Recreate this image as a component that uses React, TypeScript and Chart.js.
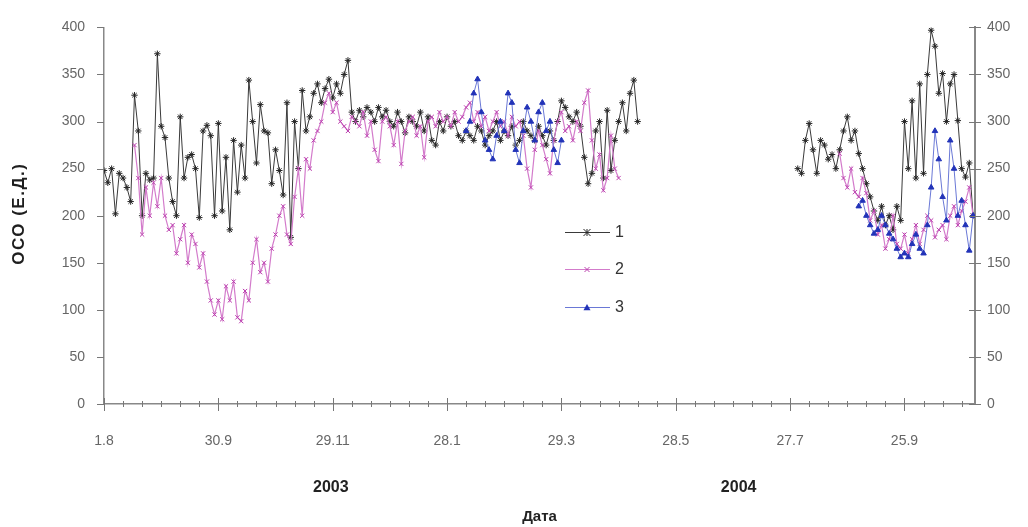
import React, { useEffect, useRef } from 'react';
import { Chart, registerables } from 'chart.js';

Chart.register(...registerables);

// ---- data (x = days since 1.8.2003, sampled every 2 days) ----
const xTickLabels = ['1.8', '30.9', '29.11', '28.1', '29.3', '28.5', '27.7', '25.9'];
const yearLabels = ['2003', '2004'];
const seriesNames = ['1', '2', '3'];
const STEP = 2;

const s1aStart = 0;
const s1a = [
  248, 235, 250, 202, 245, 240, 230, 215, 328, 290, 200, 245, 238, 240, 372, 295, 283, 240, 215, 200,
  305, 240, 262, 265, 250, 198, 290, 296, 285, 200, 298, 205, 262, 185, 280, 225, 275, 240, 344, 300,
  256, 318, 290, 288, 234, 270, 248, 222, 320, 177, 300, 250, 333, 290, 305, 330, 340, 320, 335, 345,
  325, 340, 330, 350, 365, 310, 300, 312, 305, 315, 310, 300, 315, 305, 312, 300, 295, 310, 300, 288,
  305, 300, 295, 310, 290, 305, 280, 275, 300, 290, 305, 295, 300, 285, 280, 290, 285, 280, 295, 290,
  275, 285, 290, 300, 280, 290, 285, 295, 275, 280, 300, 290, 285, 280, 295, 285, 275, 290, 280, 300,
  322, 315, 305, 300, 310, 295, 262, 234, 245, 290, 300, 240, 312, 248, 280, 300, 320, 290, 330, 344,
  300,
];
const s1bStart = 364;
const s1b = [
  250, 245, 280, 298, 270, 245, 280, 275, 260, 265, 250, 270, 290, 305, 280, 290, 266, 250, 234, 220,
  205, 195, 210, 190, 200, 185, 210, 195, 300, 250, 322, 240, 340, 245, 350, 397, 380, 330, 351, 300,
  340, 350, 301, 250, 241, 256, 200,
];

const s2aStart = 16;
const s2a = [
  275, 240, 180, 230, 200, 235, 210, 240, 200, 185, 190, 160, 175, 190, 150, 180, 170, 145, 160, 130,
  110, 95, 110, 90, 125, 110, 130, 92, 88, 120, 110, 150, 175, 140, 150, 130, 165, 180, 200, 210,
  180, 170, 220, 250, 200, 260, 250, 280, 290, 300, 320, 330, 310, 320, 300, 295, 290, 305, 300, 295,
  310, 285, 300, 270, 258, 300, 305, 295, 275, 300, 255, 290, 300, 305, 285, 295, 262, 300, 305, 295,
  310, 300, 305, 295, 310, 300, 305, 315, 320, 300, 310, 295, 305, 290, 300, 310, 295, 300, 285, 305,
  295, 300, 285, 250, 230, 270, 290, 275, 260, 245, 280, 300, 310, 290, 295, 280, 300, 290, 320, 333,
  280, 250, 265, 227, 240, 285, 250, 240,
];
const s2bStart = 386;
const s2b = [
  266, 240, 230, 250, 225, 220, 240, 224, 195, 205, 180, 190, 165, 175, 200, 170, 165, 180, 160, 175,
  190, 170, 185, 200, 195, 177, 185, 190, 175, 200, 210, 190, 205, 215, 230, 200,
];

const s3aStart = 190;
const s3a = [
  290, 300, 330, 345, 310, 280, 270, 260, 285, 300, 290, 330, 320, 270, 256, 290, 315, 300, 280, 310,
  320, 290, 300, 270, 256, 280,
];
const s3bStart = 396;
const s3b = [
  210, 216, 200, 190, 181, 185, 200, 190, 181, 175, 165, 156, 160, 156, 170, 180, 165, 160, 190, 230,
  290, 260, 220, 195, 280, 250, 200, 216, 190, 163, 200,
];

const X_MAX = 457;

type Pt = { x: number; y: number | null };
function toPoints(start: number, vals: number[]): Pt[] {
  return vals.map((v, i) => ({ x: start + i * STEP, y: v }));
}
function joinSegments(a: Pt[], b: Pt[]): Pt[] {
  const gapX = (a[a.length - 1].x + b[0].x) / 2;
  return [...a, { x: gapX, y: null }, ...b];
}

const FONT = '"Liberation Sans", Arial, sans-serif';

const styles = [
  { line: '#3a3a3a', point: '#262626', shape: 'star', radius: 3.2, width: 1 },
  { line: '#d37bcb', point: '#bb3fae', shape: 'crossRot', radius: 3, width: 1.2 },
  { line: '#6a78d6', point: '#2233b8', shape: 'triangle', radius: 3.2, width: 1 },
];

function drawMarker(ctx: CanvasRenderingContext2D, shape: string, x: number, y: number, color: string) {
  ctx.save();
  ctx.strokeStyle = color;
  ctx.fillStyle = color;
  ctx.lineWidth = 1;
  ctx.beginPath();
  if (shape === 'star') {
    const r = 3.5;
    ctx.moveTo(x - r, y - r); ctx.lineTo(x + r, y + r);
    ctx.moveTo(x + r, y - r); ctx.lineTo(x - r, y + r);
    ctx.moveTo(x, y - r); ctx.lineTo(x, y + r);
    ctx.stroke();
  } else if (shape === 'crossRot') {
    const r = 2.5;
    ctx.moveTo(x - r, y - r); ctx.lineTo(x + r, y + r);
    ctx.moveTo(x + r, y - r); ctx.lineTo(x - r, y + r);
    ctx.stroke();
  } else {
    const r = 3.5;
    ctx.moveTo(x, y - r);
    ctx.lineTo(x + r, y + r * 0.8);
    ctx.lineTo(x - r, y + r * 0.8);
    ctx.closePath();
    ctx.fill();
  }
  ctx.restore();
}

const decorPlugin = {
  id: 'decor',
  afterDraw(chart: any) {
    const { ctx, chartArea: ca } = chart;
    const xs = chart.scales.x;
    const ys = chart.scales.y;
    ctx.save();
    ctx.strokeStyle = '#777';
    ctx.lineWidth = 1;
    // x tick marks (major every 60 days, minor every 10)
    for (let v = 0; v <= X_MAX; v += 10) {
      const px = Math.round(xs.getPixelForValue(v)) + 0.5;
      const major = v % 60 === 0;
      ctx.beginPath();
      ctx.moveTo(px, ca.bottom - (major ? 6 : 3));
      ctx.lineTo(px, ca.bottom + (major ? 7 : 3));
      ctx.stroke();
    }
    // y tick marks
    for (let v = 0; v <= 400; v += 50) {
      const py = Math.round(ys.getPixelForValue(v)) + 0.5;
      ctx.beginPath();
      ctx.moveTo(ca.left - 7, py);
      ctx.lineTo(ca.left, py);
      ctx.moveTo(ca.right - 6, py);
      ctx.lineTo(ca.right + 6, py);
      ctx.stroke();
    }
    // y-axis title (rotated)
    ctx.save();
    ctx.translate(19, (ca.top + ca.bottom) / 2 - 2);
    ctx.rotate(-Math.PI / 2);
    ctx.font = `bold 17px ${FONT}`;
    (ctx as any).letterSpacing = '1.5px';
    ctx.fillStyle = '#1e1e1e';
    ctx.textAlign = 'center';
    ctx.textBaseline = 'middle';
    ctx.fillText('ОСО (Е.Д.)', 0, 0);
    ctx.restore();

    // year labels under the date ticks
    ctx.font = `bold 16px ${FONT}`;
    ctx.fillStyle = '#222';
    ctx.textAlign = 'center';
    ctx.textBaseline = 'middle';
    const yearDays = [119, 333];
    yearLabels.forEach((t, i) => ctx.fillText(t, xs.getPixelForValue(yearDays[i]), 488));

    // legend
    const lx0 = 565, lx1 = 610, mx = 587;
    const ly = [232, 269, 307];
    ctx.font = `16px ${FONT}`;
    ctx.textAlign = 'left';
    seriesNames.forEach((name, i) => {
      const st = styles[i];
      ctx.strokeStyle = st.line;
      ctx.lineWidth = 1.2;
      ctx.beginPath();
      ctx.moveTo(lx0, ly[i] + 0.5);
      ctx.lineTo(lx1, ly[i] + 0.5);
      ctx.stroke();
      drawMarker(ctx, st.shape, mx, ly[i] + 0.5, st.point);
      ctx.fillStyle = '#333';
      ctx.fillText(name, 615, ly[i] + 1);
    });
    ctx.restore();
  },
};

export default function App() {
  const canvasRef = useRef<HTMLCanvasElement | null>(null);

  useEffect(() => {
    const canvas = canvasRef.current;
    if (!canvas) return;
    const segs = [
      joinSegments(toPoints(s1aStart, s1a), toPoints(s1bStart, s1b)),
      joinSegments(toPoints(s2aStart, s2a), toPoints(s2bStart, s2b)),
      joinSegments(toPoints(s3aStart, s3a), toPoints(s3bStart, s3b)),
    ];
    const orders = [3, 2, 1];
    const chart = new Chart(canvas, {
      type: 'line',
      data: {
        datasets: segs.map((pts, i) => ({
          label: seriesNames[i],
          data: pts as any,
          borderColor: styles[i].line,
          backgroundColor: styles[i].point,
          pointBorderColor: styles[i].point,
          pointBackgroundColor: styles[i].point,
          pointStyle: styles[i].shape as any,
          pointRadius: styles[i].radius,
          pointBorderWidth: 1,
          borderWidth: styles[i].width,
          spanGaps: false,
          order: orders[i],
          tension: 0,
        })),
      },
      options: {
        responsive: false,
        animation: false,
        layout: { padding: { top: 27, left: 0, right: 0, bottom: 0 } },
        plugins: { legend: { display: false }, tooltip: { enabled: false } },
        scales: {
          x: {
            type: 'linear',
            min: 0,
            max: X_MAX,
            grid: { display: false, drawTicks: false },
            border: { display: true, color: '#888', width: 1.5 },
            ticks: {
              stepSize: 60,
              includeBounds: false,
              autoSkip: false,
              maxRotation: 0,
              padding: 29,
              color: '#666',
              font: { family: FONT, size: 14 },
              callback: (v: any) => {
                const idx = Number(v) / 60;
                return Number.isInteger(idx) && xTickLabels[idx] !== undefined ? xTickLabels[idx] : '';
              },
            },
            title: {
              display: true,
              text: 'Дата',
              color: '#222',
              font: { family: FONT, size: 15, weight: 'bold' },
              padding: { top: 0, bottom: 1 },
            },
            afterFit: (s: any) => { s.height = 123; },
          },
          y: {
            type: 'linear',
            position: 'left',
            min: 0,
            max: 400,
            grid: { display: false, drawTicks: false },
            border: { display: true, color: '#888', width: 1.5 },
            ticks: {
              stepSize: 50,
              padding: 19,
              color: '#666',
              font: { family: FONT, size: 14 },
            },
            afterFit: (s: any) => { s.width = 104; },
          },
          y2: {
            type: 'linear',
            position: 'right',
            min: 0,
            max: 400,
            grid: { display: false, drawTicks: false },
            border: { display: true, color: '#888', width: 2 },
            ticks: {
              stepSize: 50,
              padding: 12,
              color: '#666',
              font: { family: FONT, size: 14 },
            },
            afterFit: (s: any) => { s.width = 53; },
          },
        },
      },
      plugins: [decorPlugin],
    });
    return () => chart.destroy();
  }, []);

  return (
    <div style={{ position: 'absolute', left: 0, top: 0, width: 1028, height: 527, background: '#fff' }}>
      <canvas ref={canvasRef} width={1028} height={527} style={{ display: 'block' }} />
    </div>
  );
}
